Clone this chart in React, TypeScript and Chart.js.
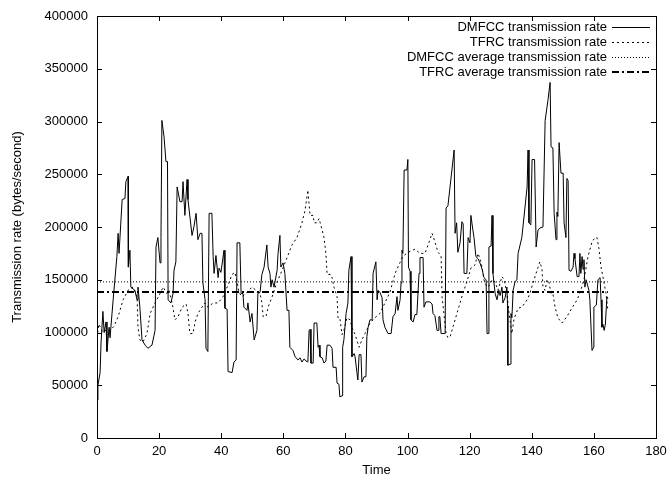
import React, { useEffect, useRef } from "react";
import { Chart, registerables } from "chart.js";

Chart.register(...registerables);

// DMFCC transmission rate (time, bytes/second)
const dmfccTime = [
  0, 0.3, 1.0, 1.3, 1.9, 2.3, 2.9, 3.2, 3.9, 4.2, 5.2, 6.4, 6.8, 7.1, 8.1, 9.0, 9.3, 10.0, 10.1, 10.6,
  10.9, 12.2, 12.9, 13.2, 13.8, 14.5, 15.5, 16.4, 17.7, 18.7, 19.0, 19.6, 20.3, 20.6, 20.9, 21.6, 22.2, 22.7, 22.9, 23.8,
  24.5, 24.8, 25.4, 25.8, 26.7, 27.4, 27.7, 28.3, 29.0, 29.3, 30.6, 31.2, 31.9, 32.5, 33.2, 33.8, 34.1, 34.8, 35.1, 35.7,
  36.1, 37.0, 37.4, 37.7, 38.3, 39.0, 39.3, 39.9, 40.9, 41.2, 41.9, 42.2, 43.5, 44.1, 44.8, 45.1, 46.0, 46.4, 47.0, 47.3,
  48.3, 48.6, 49.3, 49.9, 50.6, 51.5, 51.8, 52.5, 53.1, 53.8, 54.7, 55.1, 55.7, 56.0, 56.4, 57.0, 58.0, 58.3, 58.9, 59.2,
  59.9, 60.5, 61.2, 61.8, 62.1, 63.1, 63.8, 64.7, 65.4, 66.0, 66.7, 67.3, 67.9, 68.3, 68.6, 68.9, 69.6, 69.9, 70.8, 71.2,
  71.5, 71.8, 72.5, 73.1, 73.7, 74.1, 75.0, 75.7, 76.0, 77.0, 77.3, 77.9, 78.2, 78.9, 79.1, 79.5, 80.2, 80.8, 81.1, 81.8,
  82.1, 82.8, 83.1, 83.7, 84.0, 84.4, 85.0, 85.3, 86.0, 86.6, 86.9, 87.3, 87.9, 88.6, 88.9, 89.8, 90.2, 90.5, 91.1, 91.8,
  92.1, 92.7, 93.7, 94.7, 95.3, 96.0, 96.6, 96.9, 97.6, 97.9, 98.2, 98.5, 98.9, 99.8, 100.1, 100.3, 100.8, 101.1, 101.8, 102.4,
  103.0, 103.7, 104.0, 105.0, 105.3, 105.9, 107.2, 107.9, 108.2, 108.8, 109.5, 110.0, 110.1, 110.4, 110.8, 112.1, 112.4, 113.0, 115.0, 115.3,
  115.8, 116.2, 116.9, 117.5, 117.9, 118.2, 119.1, 119.5, 120.1, 120.4, 120.9, 121.4, 122.0, 122.7, 123.3, 124.0, 124.6, 125.3, 125.6, 126.1,
  126.2, 126.9, 127.2, 127.5, 128.2, 128.8, 129.4, 129.8, 130.4, 130.7, 131.4, 132.0, 132.2, 132.3, 133.0, 133.3, 133.6, 134.0, 134.6, 135.2,
  135.6, 136.8, 138.5, 138.8, 139.1, 139.7, 140.1, 140.9, 141.4, 142.0, 142.6, 143.6, 144.3, 145.2, 145.9, 146.2, 146.8, 147.2, 147.8, 148.1,
  148.4, 148.8, 149.4, 150.1, 150.4, 151.0, 151.3, 151.7, 152.0, 152.6, 153.3, 153.6, 153.9, 154.6, 155.2, 155.5, 155.8, 156.2, 156.5, 156.8,
  157.1, 157.5, 158.4, 158.7, 159.4, 159.9, 160.0, 160.8, 161.3, 162.0, 162.3, 162.6, 162.9, 163.3, 163.7, 164.2, 164.5,
];
const dmfccRate = [
  36000, 50000, 62000, 90000, 120000, 100000, 110000, 82000, 105000, 95000, 131000, 172000, 194000, 175000, 226000, 227000, 243000, 248000, 162000, 178000,
  143000, 140000, 131000, 143000, 124000, 93000, 88000, 85000, 88000, 102000, 181000, 190000, 166000, 190000, 301000, 285000, 262000, 262000, 131000, 128000,
  137000, 159000, 167000, 238000, 224000, 224000, 243000, 211000, 245000, 226000, 192000, 200000, 213000, 188000, 194000, 194000, 147000, 131000, 85000, 82000,
  213000, 213000, 172000, 156000, 173000, 152000, 161000, 157000, 178000, 123000, 122000, 63000, 62000, 72000, 74000, 185000, 185000, 137000, 137000, 124000,
  121000, 128000, 110000, 118000, 93000, 102000, 137000, 138000, 155000, 162000, 183000, 162000, 156000, 143000, 150000, 143000, 159000, 175000, 192000, 162000,
  166000, 156000, 121000, 121000, 86000, 83000, 77000, 74000, 76000, 72000, 75000, 73000, 72000, 102000, 103000, 71000, 71000, 109000, 109000, 86000,
  88000, 77000, 76000, 71000, 73000, 88000, 88000, 85000, 67000, 67000, 52000, 51000, 39000, 40000, 86000, 93000, 118000, 128000, 159000, 172000,
  77000, 80000, 77000, 62000, 55000, 79000, 79000, 53000, 58000, 58000, 96000, 105000, 112000, 112000, 156000, 167000, 131000, 140000, 138000, 133000,
  112000, 105000, 99000, 99000, 115000, 118000, 134000, 121000, 131000, 147000, 178000, 175000, 254000, 254000, 264000, 162000, 158000, 112000, 110000, 117000,
  117000, 156000, 171000, 171000, 124000, 129000, 129000, 127000, 118000, 116000, 102000, 102000, 115000, 115000, 99000, 99000, 218000, 220000, 273000, 194000,
  204000, 176000, 185000, 205000, 203000, 156000, 156000, 190000, 185000, 211000, 200000, 190000, 172000, 170000, 166000, 160000, 152000, 150000, 99000, 99000,
  181000, 182000, 211000, 156000, 137000, 131000, 140000, 135000, 143000, 128000, 133000, 143000, 125000, 69000, 70000, 118000, 114000, 140000, 148000, 150000,
  175000, 190000, 238000, 273000, 204000, 202000, 264000, 264000, 181000, 197000, 199000, 200000, 301000, 320000, 337000, 276000, 275000, 213000, 188000, 214000,
  210000, 280000, 251000, 251000, 204000, 190000, 246000, 244000, 159000, 158000, 162000, 175000, 170000, 153000, 153000, 175000, 156000, 172000, 160000, 169000,
  143000, 150000, 140000, 131000, 83000, 86000, 124000, 126000, 150000, 152000, 131000, 105000, 108000, 102000, 108000, 134000, 132000,
];

// TFRC transmission rate (time, bytes/second)
const tfrcTime = [
  0, 0.6, 1.9, 3.2, 4.2, 5.5, 6.8, 8.4, 10.0, 11.6, 12.9, 13.2, 13.8, 14.8, 16.1, 17.1, 18.7, 20.3, 21.3, 22.5,
  23.2, 24.2, 25.1, 26.1, 27.4, 28.7, 29.3, 29.9, 30.9, 31.6, 32.5, 33.8, 34.8, 35.7, 37.4, 39.0, 40.6, 42.2, 43.5, 44.4,
  45.1, 45.7, 46.7, 48.3, 49.9, 51.2, 52.5, 53.1, 53.5, 54.4, 55.1, 56.4, 58.0, 59.6, 61.2, 62.8, 64.4, 66.0, 67.0, 67.9,
  68.6, 69.6, 69.9, 70.8, 71.5, 72.5, 73.1, 73.7, 74.1, 75.3, 75.7, 76.3, 77.3, 77.6, 78.2, 78.9, 79.5, 80.5, 81.5, 82.1,
  83.1, 84.4, 85.3, 86.3, 87.9, 89.5, 91.1, 92.7, 94.3, 96.0, 97.2, 98.5, 100.1, 102.4, 104.0, 105.6, 106.6, 107.9, 108.8, 109.8,
  110.8, 111.1, 111.7, 112.4, 113.0, 113.7, 114.6, 116.2, 117.9, 119.1, 120.4, 121.7, 122.7, 123.3, 124.0, 124.6, 125.6, 126.5, 127.2, 128.2,
  129.1, 130.4, 131.1, 132.0, 132.7, 133.6, 134.3, 135.6, 136.8, 138.5, 139.4, 140.4, 141.7, 142.6, 143.3, 143.6, 144.3, 144.9, 145.5, 146.2,
  146.8, 147.5, 148.4, 149.7, 151.3, 152.9, 154.6, 155.8, 156.8, 158.1, 159.4, 160.4, 161.0, 161.6, 162.3, 162.9, 163.9, 164.5,
];
const tfrcRate = [
  95000, 108000, 100000, 103000, 102000, 106000, 115000, 131000, 140000, 143000, 134000, 105000, 93000, 91000, 99000, 118000, 128000, 137000, 143000, 137000,
  140000, 128000, 112000, 115000, 124000, 127000, 118000, 99000, 99000, 110000, 118000, 124000, 128000, 124000, 128000, 128000, 134000, 145000, 155000, 157000,
  148000, 138000, 134000, 138000, 143000, 140000, 137000, 128000, 115000, 115000, 124000, 134000, 148000, 159000, 171000, 183000, 190000, 204000, 216000, 235000,
  211000, 211000, 204000, 204000, 208000, 197000, 190000, 175000, 155000, 155000, 152000, 143000, 134000, 114000, 114000, 98000, 102000, 114000, 112000, 105000,
  98000, 86000, 93000, 99000, 109000, 114000, 118000, 128000, 138000, 156000, 164000, 172000, 176000, 179000, 175000, 175000, 183000, 194000, 186000, 176000,
  173000, 134000, 118000, 99000, 95000, 96000, 105000, 121000, 138000, 148000, 161000, 164000, 175000, 170000, 162000, 150000, 143000, 145000, 150000, 148000,
  140000, 153000, 150000, 137000, 118000, 99000, 113000, 123000, 124000, 131000, 137000, 147000, 159000, 167000, 160000, 143000, 140000, 150000, 148000, 137000,
  137000, 124000, 114000, 109000, 115000, 123000, 131000, 140000, 150000, 172000, 186000, 190000, 190000, 180000, 162000, 153000, 137000, 121000,
];

// Averages
const avgTime = [0, 164.5];
const dmfccAverage = [148000, 148000];
const tfrcAverage = [138500, 138500];

const seriesLabels = [
  "DMFCC transmission rate",
  "TFRC transmission rate",
  "DMFCC average transmission rate",
  "TFRC average transmission rate",
];

const xTicks = [0, 20, 40, 60, 80, 100, 120, 140, 160, 180];
const yTicks = [0, 50000, 100000, 150000, 200000, 250000, 300000, 350000, 400000];

const FONT = "'Liberation Sans', Arial, Helvetica, sans-serif";

const toPoints = (xs: number[], ys: number[]) => xs.map((x, i) => ({ x, y: ys[i] }));

const framePlugin = {
  id: "gnuplotFrame",
  afterDatasetsDraw(chart: any) {
    const { ctx, chartArea } = chart;
    const { left, right, top, bottom } = chartArea;
    const xs = chart.scales.x;
    const ys = chart.scales.y;
    ctx.save();
    ctx.strokeStyle = "#000";
    ctx.lineWidth = 1;
    ctx.setLineDash([]);
    ctx.beginPath();
    const L = 5;
    xTicks.forEach((v) => {
      const px = Math.round(xs.getPixelForValue(v)) + 0.5;
      ctx.moveTo(px, bottom);
      ctx.lineTo(px, bottom - L);
      ctx.moveTo(px, top);
      ctx.lineTo(px, top + L);
    });
    yTicks.forEach((v) => {
      const py = Math.round(ys.getPixelForValue(v)) + 0.5;
      ctx.moveTo(left, py);
      ctx.lineTo(left + L, py);
      ctx.moveTo(right, py);
      ctx.lineTo(right - L, py);
    });
    ctx.stroke();
    ctx.strokeRect(Math.round(left) + 0.5, Math.round(top) + 0.5, Math.round(right - left), Math.round(bottom - top));
    ctx.restore();
  },
};

const legendPlugin = {
  id: "gnuplotLegend",
  afterDraw(chart: any) {
    const { ctx, chartArea } = chart;
    ctx.save();
    ctx.font = `13px ${FONT}`;
    ctx.fillStyle = "#000";
    ctx.textAlign = "right";
    ctx.textBaseline = "middle";
    chart.data.datasets.forEach((ds: any, i: number) => {
      const y = chartArea.top + 11 + i * 15;
      ctx.fillText(ds.label, chartArea.right - 49, y);
      ctx.beginPath();
      ctx.strokeStyle = ds.borderColor;
      ctx.lineWidth = ds.borderWidth;
      ctx.setLineDash(ds.borderDash || []);
      const yy = Math.round(y) + (ds.borderWidth % 2 ? 0.5 : 0);
      ctx.moveTo(chartArea.right - 44, yy);
      ctx.lineTo(chartArea.right - 6, yy);
      ctx.stroke();
    });
    ctx.restore();
  },
};

export default function App() {
  const ref = useRef<HTMLCanvasElement | null>(null);

  useEffect(() => {
    document.body.style.margin = "0";
    const canvas = ref.current;
    if (!canvas) return;
    const chart = new Chart(canvas, {
      type: "line",
      data: {
        datasets: [
          {
            label: seriesLabels[0],
            data: toPoints(dmfccTime, dmfccRate),
            borderColor: "#000",
            borderWidth: 1,
            borderDash: [],
          },
          {
            label: seriesLabels[1],
            data: toPoints(tfrcTime, tfrcRate),
            borderColor: "#000",
            borderWidth: 1,
            borderDash: [2, 3],
          },
          {
            label: seriesLabels[2],
            data: toPoints(avgTime, dmfccAverage),
            borderColor: "#000",
            borderWidth: 1,
            borderDash: [1, 2],
          },
          {
            label: seriesLabels[3],
            data: toPoints(avgTime, tfrcAverage),
            borderColor: "#000",
            borderWidth: 2,
            borderDash: [7, 3, 2, 3],
          },
        ] as any,
      },
      options: {
        animation: false,
        responsive: false,
        maintainAspectRatio: false,
        elements: { point: { radius: 0 }, line: { tension: 0 } },
        layout: { padding: { top: 16, right: 13, left: 0, bottom: 0 } },
        plugins: {
          legend: { display: false },
          tooltip: { enabled: false },
        },
        scales: {
          x: {
            type: "linear",
            min: 0,
            max: 180,
            grid: { display: false, drawTicks: false },
            border: { display: false },
            afterBuildTicks: (scale: any) => {
              scale.ticks = xTicks.map((v) => ({ value: v }));
            },
            afterFit: (scale: any) => {
              scale.height = 41;
              scale.paddingLeft = 0;
              scale.paddingRight = 0;
            },
            ticks: {
              color: "#000",
              font: { family: FONT, size: 13 },
              padding: 6,
              maxRotation: 0,
              autoSkip: false,
            },
            title: {
              display: true,
              text: "Time",
              color: "#000",
              font: { family: FONT, size: 13 },
              padding: { top: 0, bottom: 1 },
            },
          },
          y: {
            type: "linear",
            min: 0,
            max: 400000,
            grid: { display: false, drawTicks: false },
            border: { display: false },
            afterBuildTicks: (scale: any) => {
              scale.ticks = yTicks.map((v) => ({ value: v }));
            },
            afterFit: (scale: any) => {
              scale.width = 97;
              scale.paddingTop = 0;
              scale.paddingBottom = 0;
            },
            ticks: {
              color: "#000",
              font: { family: FONT, size: 13 },
              padding: 9,
              autoSkip: false,
              callback: (v: any) => String(v),
            },
            title: {
              display: true,
              text: "Transmission rate (bytes/second)",
              color: "#000",
              font: { family: FONT, size: 13 },
              padding: { top: 10, bottom: 0 },
            },
          },
        },
      },
      plugins: [framePlugin, legendPlugin],
    } as any);
    return () => chart.destroy();
  }, []);

  return (
    <div style={{ width: 669, height: 479, background: "#fff" }}>
      <canvas ref={ref} width={669} height={479} style={{ display: "block" }} />
    </div>
  );
}
